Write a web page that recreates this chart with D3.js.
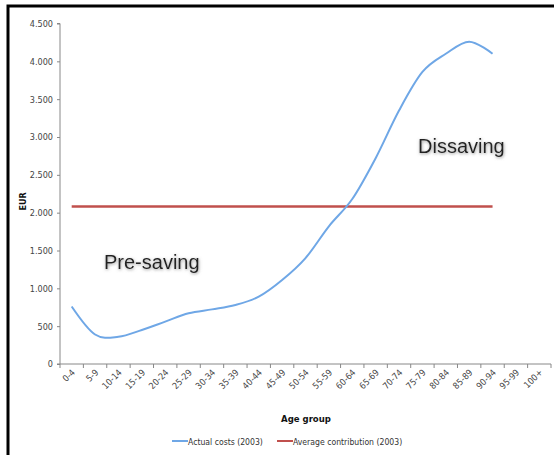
<!DOCTYPE html>
<html>
<head>
<meta charset="utf-8">
<script src="https://cdn.jsdelivr.net/npm/d3@7"></script>
<style>
  body { margin: 0; background: #fff; }
  text { font-family: "DejaVu Sans Condensed", "DejaVu Sans", sans-serif; }
  text.note { font-family: "Liberation Sans", Arial, sans-serif; }
</style>
</head>
<body>
<div id="chart-area"></div>
<script>
// data
const AGE_GROUPS = ["0-4", "5-9", "10-14", "15-19", "20-24", "25-29", "30-34", "35-39", "40-44",
  "45-49", "50-54", "55-59", "60-64", "65-69", "70-74", "75-79", "80-84", "85-89", "90-94",
  "95-99", "100+"]
const ACTUAL_COSTS = [760, 390, 360, 450, 560, 670, 722, 780, 890, 1110, 1400, 1820, 2180,
  2720, 3350, 3860, 4100, 4260, 4100]
const AVG_CONTRIBUTION = [2080, 2080, 2080, 2080, 2080, 2080, 2080, 2080, 2080, 2080, 2080,
  2080, 2080, 2080, 2080, 2080, 2080, 2080, 2080]
const Y_TICKS = [0, 500, 1000, 1500, 2000, 2500, 3000, 3500, 4000, 4500]
const SERIES_NAMES = ["Actual costs (2003)", "Average contribution (2003)"]

const W = 554
const H = 455
const MARGIN = { LEFT: 60, RIGHT: 3, TOP: 23.5, BOTTOM: 91 }
const WIDTH = W - MARGIN.LEFT - MARGIN.RIGHT
const HEIGHT = H - MARGIN.TOP - MARGIN.BOTTOM

const svg = d3.select("#chart-area").append("svg")
  .attr("width", W)
  .attr("height", H)

// glow for the annotations
const filter = svg.append("defs").append("filter")
  .attr("id", "glow")
  .attr("x", "-20%").attr("y", "-40%")
  .attr("width", "140%").attr("height", "180%")
filter.append("feDropShadow")
  .attr("dx", 0.5).attr("dy", 1)
  .attr("stdDeviation", 1.4)
  .attr("flood-color", "#888")
  .attr("flood-opacity", 0.9)

// frame (left + top only)
svg.append("path")
  .attr("d", `M8,${H} V6 H${W}`)
  .attr("fill", "none")
  .attr("stroke", "#000")
  .attr("stroke-width", 3)

const g = svg.append("g")
  .attr("transform", `translate(${MARGIN.LEFT}, ${MARGIN.TOP})`)

const x = d3.scaleBand()
  .domain(AGE_GROUPS)
  .range([0, WIDTH])

const y = d3.scaleLinear()
  .domain([0, 4500])
  .range([HEIGHT, 0])

// Y axis
const yAxisCall = d3.axisLeft(y)
  .tickValues(Y_TICKS)
  .tickSize(3)
  .tickPadding(4)
  .tickFormat(d => d3.format(",")(d).replace(",", "."))
const yAxis = g.append("g").call(yAxisCall)
yAxis.select(".domain").attr("stroke", "#888").attr("d", `M-3,${HEIGHT}H0V0H-3`)
yAxis.selectAll(".tick line").attr("stroke", "#888")
yAxis.selectAll("text").attr("fill", "#444").attr("font-size", 9)

// X axis: ticks between categories, labels at centres
const xAxisG = g.append("g")
  .attr("transform", `translate(0, ${HEIGHT})`)
xAxisG.append("line")
  .attr("x1", 0).attr("x2", WIDTH)
  .attr("stroke", "#888")
xAxisG.selectAll(".xtick")
  .data(AGE_GROUPS.concat(["end"]))
  .enter().append("line")
  .attr("x1", (d, i) => i * x.bandwidth())
  .attr("x2", (d, i) => i * x.bandwidth())
  .attr("y1", 0).attr("y2", 4)
  .attr("stroke", "#888")
xAxisG.selectAll(".xlabel")
  .data(AGE_GROUPS)
  .enter().append("text")
  .attr("transform", d => `translate(${x(d) + x.bandwidth() / 2 + 4}, 9) rotate(-45)`)
  .attr("text-anchor", "end")
  .attr("font-size", 9)
  .attr("fill", "#444")
  .text(d => d)

// axis labels
g.append("text")
  .attr("x", 246)
  .attr("y", HEIGHT + 58)
  .attr("text-anchor", "middle")
  .attr("font-size", 9.5)
  .attr("font-weight", "bold")
  .attr("fill", "#111")
  .text("Age group")

g.append("text")
  .attr("transform", `translate(-34, ${y(2150)}) rotate(-90)`)
  .attr("text-anchor", "middle")
  .attr("font-size", 9)
  .attr("font-weight", "bold")
  .attr("fill", "#111")
  .text("EUR")

// lines
const cx = d => x(d) + x.bandwidth() / 2

const line = d3.line()
  .x((d, i) => cx(AGE_GROUPS[i]))
  .y(d => y(d))

g.append("path")
  .datum(AVG_CONTRIBUTION)
  .attr("d", line)
  .attr("fill", "none")
  .attr("stroke", "#c0504d")
  .attr("stroke-width", 2.5)

g.append("path")
  .datum(ACTUAL_COSTS)
  .attr("d", line.curve(d3.curveCardinal))
  .attr("fill", "none")
  .attr("stroke", "#6fa7e6")
  .attr("stroke-width", 2)

// annotations
g.append("text")
  .attr("class", "note")
  .attr("x", 44)
  .attr("y", 245)
  .attr("font-size", 20)
  .attr("fill", "#222")
  .attr("filter", "url(#glow)")
  .text("Pre-saving")

g.append("text")
  .attr("class", "note")
  .attr("x", 358)
  .attr("y", 129)
  .attr("font-size", 20)
  .attr("fill", "#222")
  .attr("filter", "url(#glow)")
  .text("Dissaving")

// legend
const legend = svg.append("g")
  .attr("transform", "translate(0, 441)")
const LEGEND_COLORS = ["#6fa7e6", "#c0504d"]
const LEGEND_X = [172, 277]
SERIES_NAMES.forEach((name, i) => {
  legend.append("line")
    .attr("x1", LEGEND_X[i]).attr("x2", LEGEND_X[i] + 16)
    .attr("stroke", LEGEND_COLORS[i])
    .attr("stroke-width", 2)
  legend.append("text")
    .attr("x", LEGEND_X[i] + 16)
    .attr("y", 3.5)
    .attr("font-size", 8.6)
    .attr("fill", "#333")
    .text(name)
})
</script>
</body>
</html>
